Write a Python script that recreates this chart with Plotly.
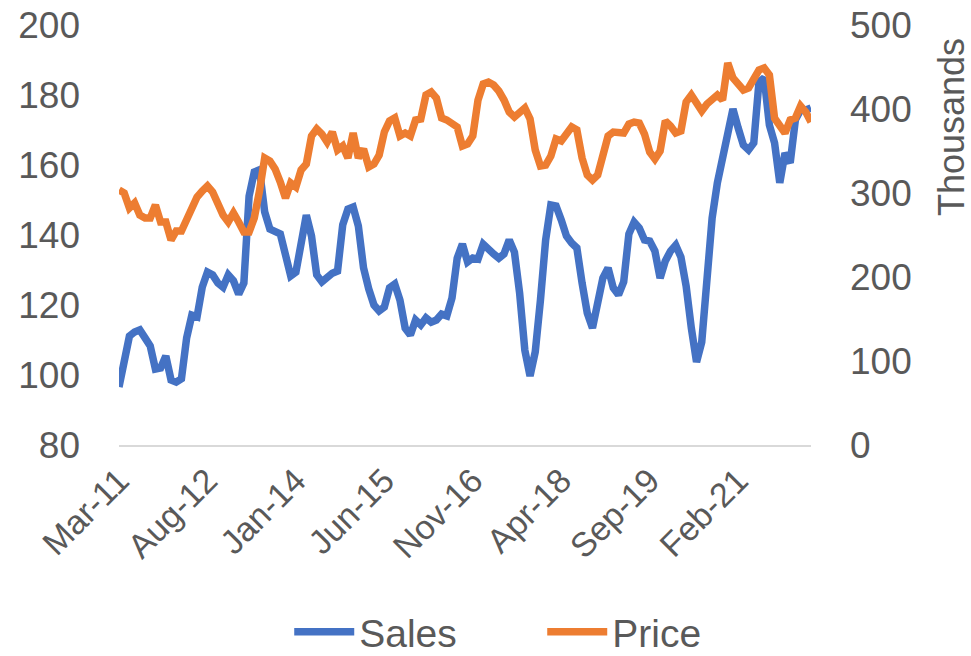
import plotly.graph_objects as go
import pandas as pd

# Monthly categories Mar-2011 .. Apr-2022
months = [d.strftime("%b-%y") for d in pd.date_range("2011-03-01", periods=134, freq="MS")]
tick_labels = ["Mar-11", "Aug-12", "Jan-14", "Jun-15", "Nov-16", "Apr-18", "Sep-19", "Feb-21"]

sales = [
    96.6, 105.1, 111.1, 112.3, 112.9, 110.6, 108.3, 101.7, 102.0, 105.4,
    98.6, 98.0, 98.9, 110.6, 117.1, 116.6, 125.1, 129.4, 128.6, 126.3,
    125.1, 128.6, 126.9, 123.1, 126.3, 151.1, 158.0, 158.6, 146.6, 141.7,
    141.1, 140.3, 134.3, 128.3, 129.4, 137.1, 145.7, 139.7, 128.6, 126.6,
    128.0, 129.1, 129.7, 142.9, 147.4, 148.0, 142.6, 130.6, 124.6, 120.0,
    118.3, 119.4, 124.9, 126.0, 121.4, 113.4, 111.4, 115.7, 114.3, 116.3,
    115.1, 115.7, 117.4, 116.9, 122.0, 133.4, 137.4, 132.3, 133.4, 133.1,
    137.4, 136.3, 134.6, 133.4, 134.6, 138.6, 135.1, 123.4, 107.1, 99.7,
    106.6, 121.4, 138.6, 148.6, 148.3, 144.3, 139.7, 137.7, 136.3, 126.3,
    117.7, 113.4, 120.9, 127.7, 130.6, 124.9, 122.9, 126.6, 140.3, 143.7,
    142.0, 138.6, 138.3, 135.4, 127.7, 132.6, 135.4, 137.1, 133.7, 125.4,
    113.4, 103.7, 109.4, 128.0, 144.9, 154.9, 162.9, 168.3, 176.0, 170.6,
    165.7, 164.3, 166.3, 183.7, 184.9, 171.4, 166.3, 154.9, 163.4, 160.6,
    172.9, 175.7, 175.7, 176.3,
]

price_thousands = [
    303.6, 300.0, 282.1, 288.1, 273.8, 270.2, 270.2, 285.7, 265.5, 265.5,
    244.0, 254.8, 254.8, 269.0, 283.3, 295.2, 302.4, 308.3, 301.2, 286.9,
    273.8, 265.5, 276.2, 265.5, 253.6, 253.6, 270.2, 302.4, 341.7, 338.1,
    328.6, 313.1, 294.0, 311.9, 307.1, 327.4, 334.5, 367.9, 376.2, 370.2,
    360.7, 372.6, 351.2, 356.0, 341.7, 371.4, 341.7, 352.4, 331.0, 334.5,
    345.2, 372.6, 385.7, 389.3, 367.9, 371.4, 367.9, 386.9, 388.1, 416.7,
    420.2, 413.1, 389.3, 386.9, 383.3, 378.6, 356.0, 358.3, 367.9, 410.7,
    429.8, 432.1, 428.6, 421.4, 410.7, 396.4, 390.5, 396.4, 401.2, 388.1,
    351.2, 332.1, 333.3, 344.0, 364.3, 361.9, 369.0, 378.6, 375.0, 341.7,
    321.4, 315.5, 321.4, 345.2, 367.9, 372.6, 371.4, 371.4, 382.1, 384.5,
    383.3, 370.2, 348.8, 340.5, 350.0, 385.7, 379.8, 371.4, 373.8, 408.3,
    416.7, 406.0, 397.6, 406.0, 410.7, 416.7, 410.7, 454.8, 437.0, 431.0,
    422.6, 425.0, 438.1, 446.4, 448.8, 440.5, 389.0, 378.6, 371.4, 386.9,
    389.3, 403.6, 396.4, 384.5,
]

BLUE = "#4472C4"
ORANGE = "#ED7D31"
TEXT = "#595959"
FONT = "Liberation Sans, Arial, sans-serif"

fig = go.Figure()
fig.add_trace(go.Scatter(x=months, y=sales, name="Sales", mode="lines",
                         line=dict(color=BLUE, width=7.5), yaxis="y"))
fig.add_trace(go.Scatter(x=months, y=price_thousands, name="Price", mode="lines",
                         line=dict(color=ORANGE, width=7.5), yaxis="y2"))

fig.update_layout(
    width=971, height=656,
    margin=dict(l=119, r=160, t=25, b=211, autoexpand=False),
    paper_bgcolor="white", plot_bgcolor="white",
    font=dict(family=FONT, color=TEXT, size=36),
    xaxis=dict(
        type="category", range=[0, len(months) - 1], automargin=False,
        tickmode="array", tickvals=tick_labels, ticktext=tick_labels,
        tickangle=-45, showgrid=False, showline=True, linecolor="#d9d9d9",
        linewidth=2, ticks="", tickfont=dict(size=34, color=TEXT),
        ticklabelstandoff=0,
    ),
    yaxis=dict(
        range=[80, 200], dtick=20, tick0=80, showgrid=False, zeroline=False,
        showline=False, ticks="", tickfont=dict(size=37, color=TEXT),
        ticklabelstandoff=38, automargin=False,
    ),
    yaxis2=dict(
        range=[0, 500], dtick=100, tick0=0, overlaying="y", side="right",
        showgrid=False, zeroline=False, showline=False, ticks="",
        tickfont=dict(size=37, color=TEXT), ticklabelstandoff=38,
        automargin=False,
    ),
    legend=dict(
        orientation="h", x=0.246, xanchor="left", y=-0.445, yanchor="middle",
        font=dict(size=39, color=TEXT), itemwidth=60,
        entrywidth=178, entrywidthmode="pixels",
    ),
    showlegend=True,
)

fig.add_annotation(
    text="Thousands", textangle=-90, xref="paper", yref="paper",
    x=(951 - 119) / 692, y=(445 - 127) / 420, xanchor="center", yanchor="middle",
    showarrow=False, font=dict(size=36, color=TEXT),
)

fig.write_html(
    "out.html",
    config={"displayModeBar": False},
    post_script="document.body.style.margin='0';document.body.style.overflow='hidden';",
)
